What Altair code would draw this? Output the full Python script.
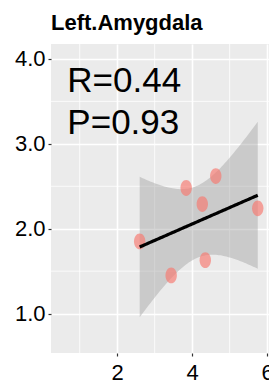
import altair as alt
import numpy as np
import pandas as pd

# ---- data ----
title_text = "Left.Amygdala"
x_vals = [2.60, 3.84, 4.63, 4.27, 5.75, 4.35, 3.44]
y_vals = [1.85, 2.48, 2.62, 2.29, 2.24, 1.63, 1.45]
stat_labels = ["R=0.44", "P=0.93"]
stat_label_x = [0.67, 0.67]
stat_label_y = [3.61, 3.12]
x_major = [2, 4, 6]
x_minor = [1, 3, 5]
y_major = [1.0, 2.0, 3.0, 4.0]
y_minor = [1.5, 2.5, 3.5]
x_domain = [0.234, 6.05]
y_domain = [0.536, 4.176]

# ---- linear fit and 95% confidence band (as geom_smooth(method="lm")) ----
xa = np.array(x_vals)
ya = np.array(y_vals)
n = len(xa)
slope, intercept = np.polyfit(xa, ya, 1)
resid = ya - (slope * xa + intercept)
s = np.sqrt(np.sum(resid ** 2) / (n - 2))
t975 = 2.5706  # t quantile, df = 5
sxx = np.sum((xa - xa.mean()) ** 2)
xg = np.linspace(xa.min(), xa.max(), 80)
fit = slope * xg + intercept
se = s * np.sqrt(1.0 / n + (xg - xa.mean()) ** 2 / sxx)
band_df = pd.DataFrame({"x": xg, "fit": fit, "lo": fit - t975 * se, "hi": fit + t975 * se})

pts_df = pd.DataFrame({"x": x_vals, "y": y_vals})
stat_df = pd.DataFrame({"label": stat_labels, "x": stat_label_x, "y": stat_label_y})
xminor_df = pd.DataFrame({"x": x_minor})
yminor_df = pd.DataFrame({"y": y_minor})

xscale = alt.Scale(domain=x_domain, nice=False, zero=False)
yscale = alt.Scale(domain=y_domain, nice=False, zero=False)

tick_font = "Liberation Sans"
xaxis = alt.Axis(values=x_major, title=None, grid=True, domain=False,
                 labelFontSize=22, labelFont=tick_font, labelColor="#000000",
                 tickColor="#333333", tickSize=3, tickWidth=1.2, labelPadding=6,
                 gridColor="white", gridWidth=1.6, labelFlush=False)
yaxis = alt.Axis(values=y_major, format=".1f", title=None, grid=True, domain=False,
                 labelFontSize=22, labelFont=tick_font, labelColor="#000000",
                 tickColor="#333333", tickSize=3, tickWidth=1.2, labelPadding=3,
                 gridColor="white", gridWidth=1.6, labelFlush=False)

minor_x = alt.Chart(xminor_df).mark_rule(color="white", strokeWidth=0.8).encode(
    x=alt.X("x:Q", scale=xscale, axis=xaxis))
minor_y = alt.Chart(yminor_df).mark_rule(color="white", strokeWidth=0.8).encode(
    y=alt.Y("y:Q", scale=yscale, axis=yaxis))

band = alt.Chart(band_df).mark_area(color="#999999", opacity=0.4, clip=True).encode(
    x=alt.X("x:Q", scale=xscale, axis=xaxis),
    y=alt.Y("lo:Q", scale=yscale, axis=yaxis),
    y2="hi:Q")

ellipse = "M -0.72 0 A 0.72 1 0 1 0 0.72 0 A 0.72 1 0 1 0 -0.72 0 Z"
points = alt.Chart(pts_df).mark_point(shape=ellipse, size=250, filled=True,
                                      color="#F8766D", opacity=0.65, strokeWidth=0).encode(
    x=alt.X("x:Q", scale=xscale, axis=xaxis),
    y=alt.Y("y:Q", scale=yscale, axis=yaxis))

line = alt.Chart(band_df).mark_line(color="black", strokeWidth=3.2, clip=True).encode(
    x=alt.X("x:Q", scale=xscale, axis=xaxis),
    y=alt.Y("fit:Q", scale=yscale, axis=yaxis))

stats = alt.Chart(stat_df).mark_text(align="left", baseline="alphabetic", fontSize=35,
                                     font="Liberation Sans", color="black").encode(
    x=alt.X("x:Q", scale=xscale, axis=xaxis),
    y=alt.Y("y:Q", scale=yscale, axis=yaxis),
    text="label:N")

chart = alt.layer(minor_x, minor_y, band, points, line, stats).properties(
    width=218, height=309,
    autosize=alt.AutoSizeParams(type="none"),
    padding={"left": 43, "top": 36, "right": 0, "bottom": 30},
    title=alt.TitleParams(text=title_text, anchor="start", frame="group",
                          fontSize=22, font="Liberation Sans", fontWeight="bold",
                          color="black", offset=12, baseline="alphabetic", dy=20),
).configure_view(fill="#EBEBEB", strokeWidth=0)

chart.save("out.html", embed_options={"renderer": "svg", "actions": False})
